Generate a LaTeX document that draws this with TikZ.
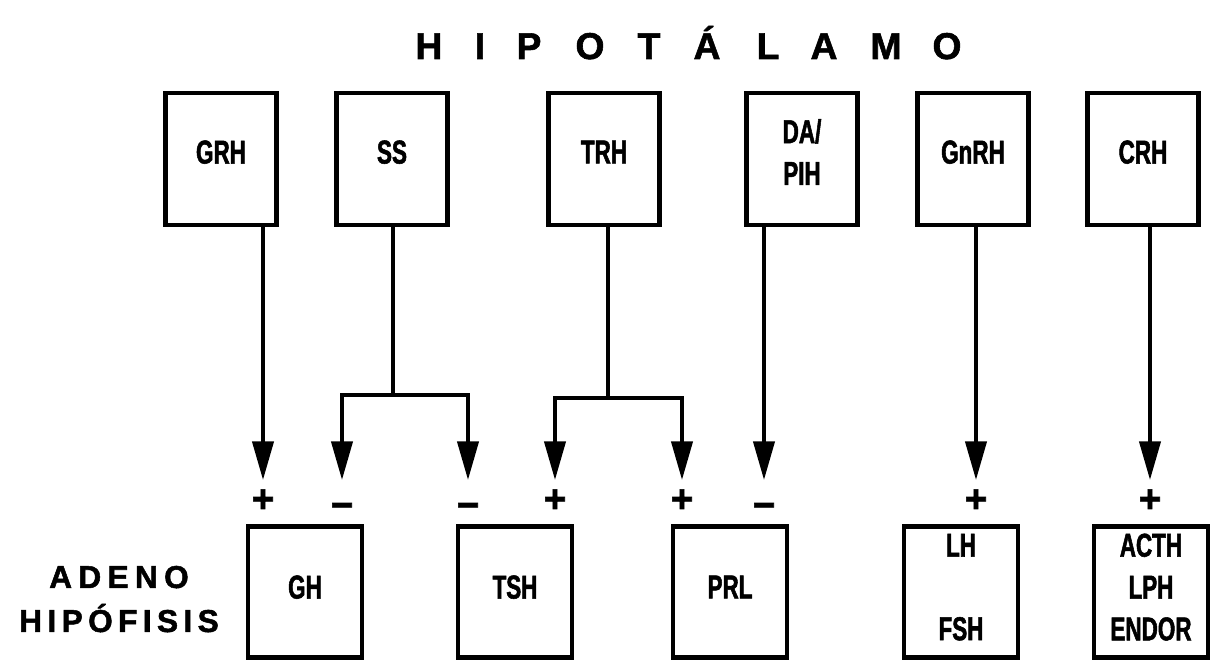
\documentclass[tikz,border=0pt]{standalone}
\usepackage{fontspec}
\setmainfont{Liberation Sans}
\newfontfamily\heavyfont[FakeBold=1.6]{Liberation Sans Bold}
\newfontfamily\narrowfont[FakeStretch=0.68,FakeBold=1.6]{Liberation Sans Bold}
\usetikzlibrary{arrows.meta}

\begin{document}
\begin{tikzpicture}[
  hbox/.style={draw, line width=1.3pt, minimum width=1.11cm, minimum height=1.32cm,
    inner sep=0pt, align=center, text depth=0.14cm,
    font=\narrowfont\fontsize{9.4}{11.9}\selectfont},
  abox/.style={hbox, minimum width=1.14cm, minimum height=1.31cm, text depth=0.1cm},
  arr/.style={line width=1.1pt, -{Triangle[length=11pt,width=6pt]}},
  sign/.style={font=\heavyfont\fontsize{11}{12}\selectfont, inner sep=0pt, anchor=base},
  ttl/.style={font=\heavyfont\fontsize{10.6}{12}\selectfont, anchor=base, inner sep=0pt},
  side/.style={anchor=base, inner sep=0pt}
]
\useasboundingbox (0,0) rectangle (12.11,-6.62);

% title
\foreach \x/\l [count=\i] in {4.29/H,4.80/I,5.29/P,5.90/O,6.49/T,7.07/Á,7.68/L,8.24/A,8.86/M,9.47/O}
  \node[ttl] (ttl\i) at (\x,-0.59) {\l};

% hypothalamic hormones
\node[hbox] (GRH) at (2.21,-1.59) {GRH};
\node[hbox] (SS) at (3.92,-1.59) {SS};
\node[hbox] (TRH) at (6.04,-1.59) {TRH};
\node[hbox] (DA) at (8.02,-1.59) {DA/\\PIH};
\node[hbox] (GnRH) at (9.73,-1.59) {GnRH};
\node[hbox] (CRH) at (11.43,-1.59) {CRH};

% adenohypophysis
\node[side, font=\heavyfont\fontsize{9}{10}\selectfont\addfontfeature{LetterSpace=20}] (aden) at (1.19,-5.88) {ADENO};
\node[side, font=\heavyfont\fontsize{9}{10}\selectfont\addfontfeature{LetterSpace=17}] (hipo) at (1.19,-6.32) {HIPÓFISIS};
\node[abox] (GH) at (3.05,-5.92) {GH};
\node[abox] (TSH) at (5.15,-5.92) {TSH};
\node[abox] (PRL) at (7.30,-5.92) {PRL};
\node[abox] (LH) at (9.61,-5.92) {LH\\[11.9pt]FSH};
\node[abox] (ACTH) at (11.51,-5.92) {ACTH\\LPH\\ENDOR};

% arrow ends and branch points
\coordinate (e1) at (2.63,-4.80);
\coordinate (e2) at (3.42,-4.80);
\coordinate (e3) at (4.68,-4.80);
\coordinate (e4) at (5.55,-4.80);
\coordinate (e5) at (6.82,-4.80);
\coordinate (e6) at (7.64,-4.80);
\coordinate (e7) at (9.76,-4.80);
\coordinate (e8) at (11.50,-4.80);
\coordinate (jS) at (3.93,-3.95);
\coordinate (jT) at (6.08,-3.98);

\draw[arr] (GRH.south -| e1) -- (e1);
\draw[arr] (SS.south -| jS) -- (jS) -| (e2);
\draw[arr] (jS) -| (e3);
\draw[arr] (TRH.south -| jT) -- (jT) -| (e4);
\draw[arr] (jT) -| (e5);
\draw[arr] (DA.south -| e6) -- (e6);
\draw[arr] (GnRH.south -| e7) -- (e7);
\draw[arr] (CRH.south -| e8) -- (e8);

% effect signs
\foreach \x/\y/\s [count=\i] in {2.63/5.12/+,3.42/5.18/−,4.68/5.18/−,5.55/5.12/+,
    6.82/5.12/+,7.64/5.18/−,9.76/5.12/+,11.50/5.12/+}
  \node[sign] (s\i) at (\x,-\y) {\s};
\end{tikzpicture}
\end{document}
